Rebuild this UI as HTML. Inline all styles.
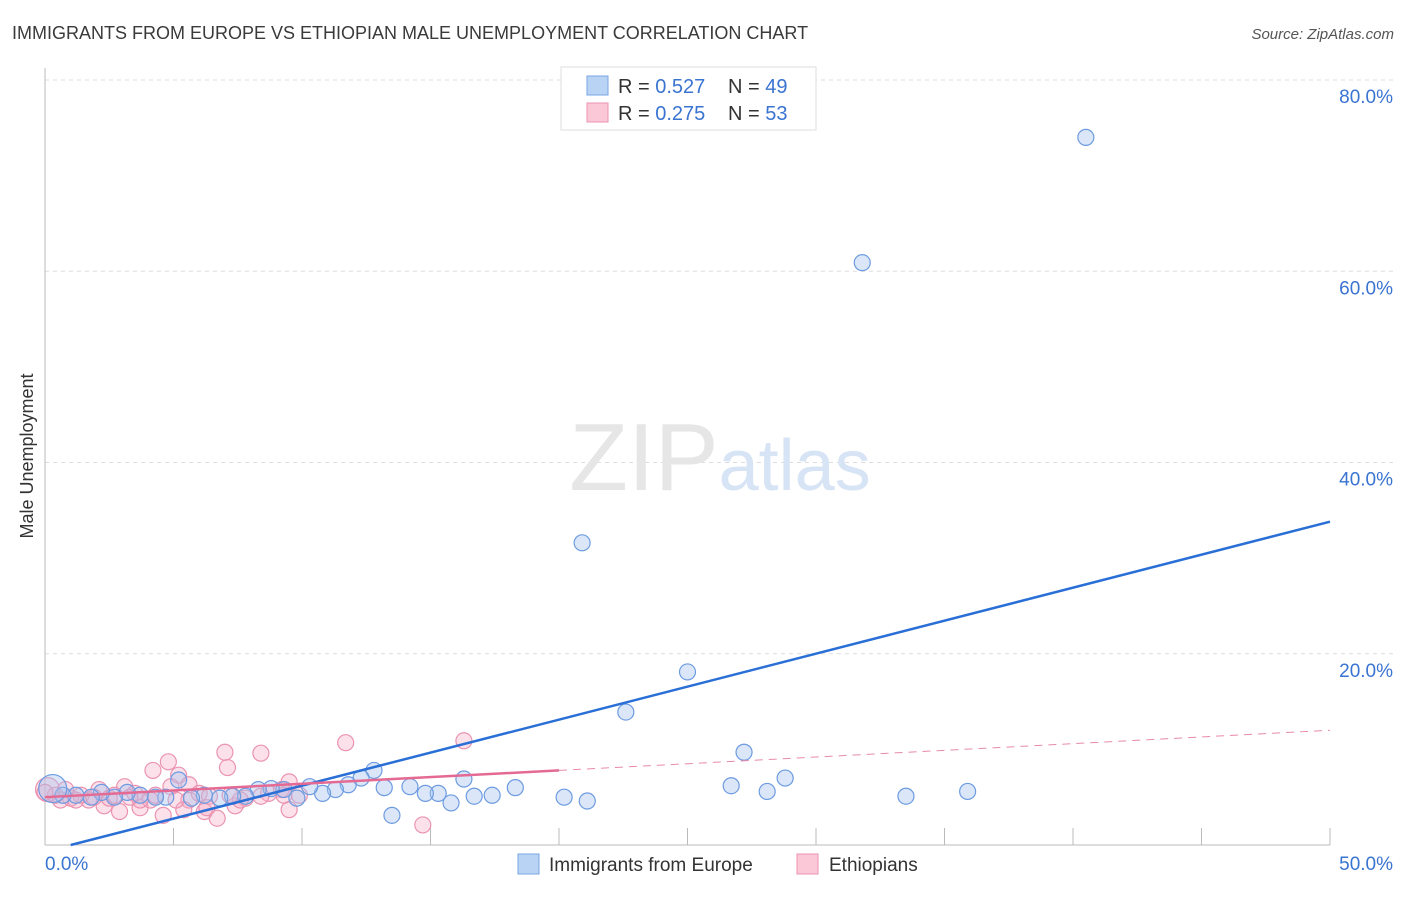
<!DOCTYPE html>
<html><head><meta charset="utf-8"><style>
body{margin:0;background:#fff;font-family:"Liberation Sans",sans-serif;}
svg text{font-family:"Liberation Sans",sans-serif;}
</style></head><body>
<svg id="chart" width="1406" height="892" viewBox="0 0 1406 892" xmlns="http://www.w3.org/2000/svg">
<text x="12" y="39" font-size="18" fill="#3a3a3a">IMMIGRANTS FROM EUROPE VS ETHIOPIAN MALE UNEMPLOYMENT CORRELATION CHART</text>
<text x="1394" y="39" font-size="15" fill="#555" text-anchor="end" font-style="italic">Source: ZipAtlas.com</text>
<g id="grid"></g>
<text x="720" y="490" font-size="96" text-anchor="middle" fill="#e6e6e6" font-family="Liberation Serif,serif">ZIP<tspan fill="#d7e4f5" font-family="Liberation Sans,sans-serif" font-size="72">atlas</tspan></text>
<g id="axes"></g>
<g id="pts"></g>
<g id="lines"></g>
<text transform="translate(33,456) rotate(-90)" font-size="18" fill="#333" text-anchor="middle">Male Unemployment</text>
<g>
<rect x="561" y="67" width="255" height="63" fill="#fff" stroke="#ddd"/>
<rect x="587" y="76" width="21" height="19" fill="#b9d3f5" stroke="#7aa6e4"/>
<rect x="587" y="103" width="21" height="19" fill="#fbc8d8" stroke="#eb93b0"/>
<text x="618" y="93" font-size="20" fill="#333">R = <tspan fill="#3a74d1">0.527</tspan></text>
<text x="728" y="93" font-size="20" fill="#333">N = <tspan fill="#3a74d1">49</tspan></text>
<text x="618" y="120" font-size="20" fill="#333">R = <tspan fill="#3a74d1">0.275</tspan></text>
<text x="728" y="120" font-size="20" fill="#333">N = <tspan fill="#3a74d1">53</tspan></text>
</g>
<g>
<rect x="518" y="854" width="21" height="20" fill="#b9d3f5" stroke="#7aa6e4"/>
<text x="549" y="871" font-size="19" fill="#333">Immigrants from Europe</text>
<rect x="797" y="854" width="21" height="20" fill="#fbc8d8" stroke="#eb93b0"/>
<text x="829" y="871" font-size="19" fill="#333">Ethiopians</text>
</g>
</svg>
<script>
const yTicks=[20,40,60,80];
const yTickLabels=["20.0%","40.0%","60.0%","80.0%"];
const xTicks=[5,10,15,20,25,30,35,40,45,50];
const blueX=[40.5,31.8,20.9,25.0,22.6,27.2,26.7,28.8,28.1,33.5,35.9,20.2,21.1,18.3,17.4,16.7,16.3,15.8,15.3,14.8,14.2,13.5,13.2,12.8,12.3,11.8,11.3,10.8,10.3,9.8,9.3,8.8,8.3,7.8,7.3,6.8,6.2,5.7,5.2,4.7,4.3,3.7,3.2,2.7,2.2,1.8,1.2,0.7,0.3];
const blueY=[74.0,60.9,31.6,18.1,13.9,9.7,6.2,7.0,5.6,5.1,5.6,5.0,4.6,6.0,5.2,5.1,6.9,4.4,5.4,5.4,6.1,3.1,6.0,7.8,7.0,6.3,5.8,5.4,6.1,4.9,5.8,5.9,5.8,5.1,5.1,4.9,5.2,4.9,6.8,5.0,5.0,5.2,5.5,5.0,5.5,5.0,5.2,5.2,5.9];
const pinkX=[4.8,4.2,5.2,7.1,7.0,8.4,11.7,16.3,14.7,9.5,9.5,7.8,7.4,6.7,6.2,5.6,5.4,4.6,3.7,2.9,2.3,3.1,3.5,2.1,1.7,1.0,0.4,0.1,1.4,2.5,4.1,4.9,6.0,6.4,7.6,8.7,9.2,3.7,0.6,1.9,2.7,3.3,4.3,5.6,7.2,5.1,6.3,8.4,9.3,9.9,0.8,1.2,0.0];
const pinkY=[8.7,7.8,7.3,8.1,9.7,9.6,10.7,10.9,2.1,6.6,3.7,4.9,4.1,2.8,3.5,4.7,3.7,3.1,3.9,3.5,4.1,6.1,5.4,5.8,4.7,4.9,5.2,5.8,5.2,4.9,4.7,6.1,5.4,5.1,4.7,5.4,5.8,4.7,4.7,5.0,5.2,5.0,5.2,6.3,5.2,4.7,3.9,5.1,5.2,5.2,5.8,4.7,5.5];
const blueTrend=[0.69,-0.69];
const pinkTrend=[0.14,5.0];
const NS="http://www.w3.org/2000/svg";
const X=v=>45+v*25.7, Y=v=>845-v*9.5625;
function mk(tag,parent,attrs){const e=document.createElementNS(NS,tag);for(const k in attrs)e.setAttribute(k,attrs[k]);document.getElementById(parent).appendChild(e);return e;}
yTicks.forEach((t,i)=>{
 const l=mk('line','grid',{x1:45,x2:1395,y1:Y(t),y2:Y(t),stroke:'#ddd','stroke-dasharray':'4,4'});
 
 
 const tx=mk('text','grid',{x:1393,y:Y(t)+23,'font-size':19,fill:'#3a74d1','text-anchor':'end'});
 tx.textContent=yTickLabels[i];
 
 
});
mk('line','axes',{x1:45,x2:45,y1:68,y2:845,stroke:'#bbb'});
mk('line','axes',{x1:45,x2:1330,y1:845,y2:845,stroke:'#bbb'});
xTicks.forEach(t=>{const l=mk('line','axes',{x1:X(t),x2:X(t),y1:828,y2:845,stroke:'#bbb'});
 
 });
let a=mk('text','axes',{x:45,y:870,'font-size':19,fill:'#3a74d1'});a.textContent='0.0%';


a=mk('text','axes',{x:1393,y:870,'font-size':19,fill:'#3a74d1','text-anchor':'end'});a.textContent='50.0%';


pinkX.forEach((x,i)=>{const c=mk('circle','pts',{cx:X(x),cy:Y(pinkY[i]),r:i==27?12:8,fill:'rgba(246,168,194,0.35)',stroke:'#eb93b0','stroke-width':1.2});
 
 });
blueX.forEach((x,i)=>{const c=mk('circle','pts',{cx:X(x),cy:Y(blueY[i]),r:i==48?14:8,fill:'rgba(164,196,240,0.4)',stroke:'#6d9be0','stroke-width':1.2});
 
 });
const bx0=-blueTrend[1]/blueTrend[0];
let ln=mk('line','lines',{x1:X(bx0),y1:Y(0),x2:X(50),y2:Y(blueTrend[0]*50+blueTrend[1]),stroke:'#2a6fd6','stroke-width':2.5});


ln=mk('line','lines',{x1:X(0),y1:Y(pinkTrend[1]),x2:X(20),y2:Y(pinkTrend[0]*20+pinkTrend[1]),stroke:'#e56a93','stroke-width':2.5});


ln=mk('line','lines',{x1:X(20),y1:Y(pinkTrend[0]*20+pinkTrend[1]),x2:X(50),y2:Y(pinkTrend[0]*50+pinkTrend[1]),stroke:'#e88aa9','stroke-width':1,'stroke-dasharray':'8,6'});


</script>
</body></html>
